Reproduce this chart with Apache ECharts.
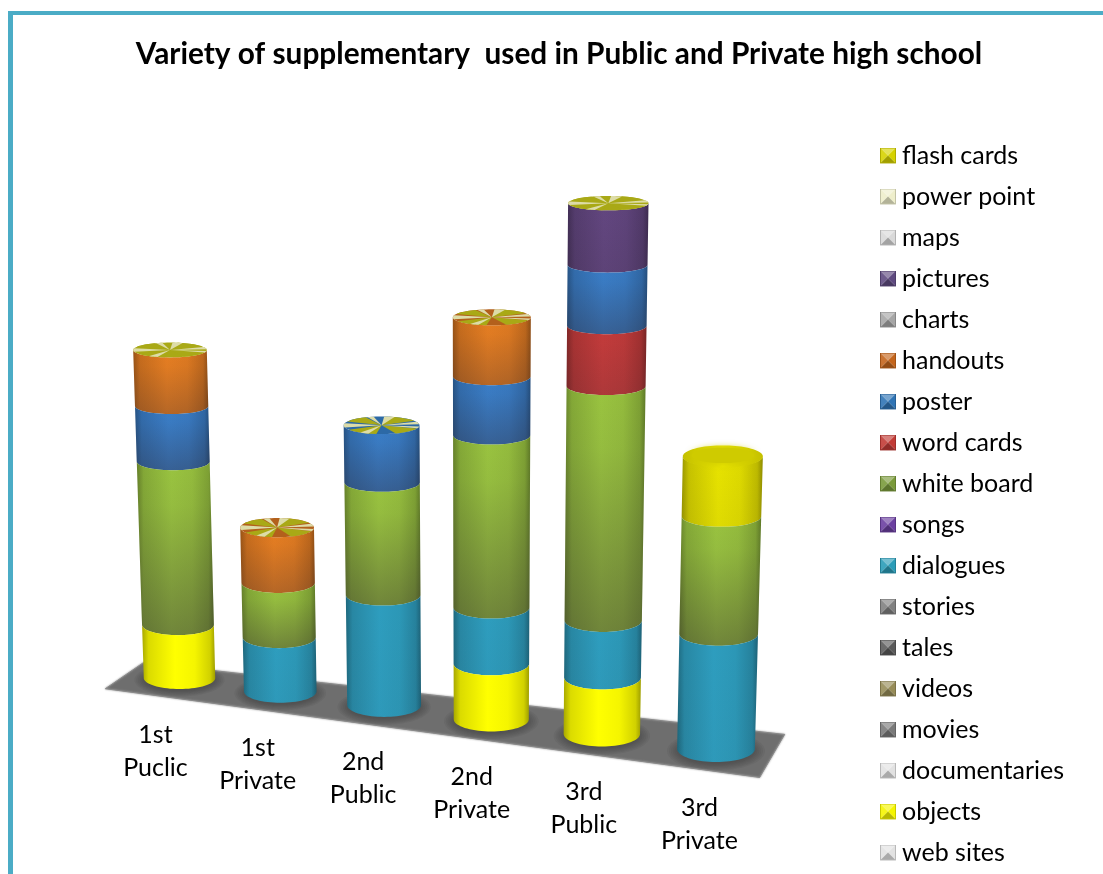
<!DOCTYPE html>
<html>
<head>
<meta charset="utf-8">
<style>html,body{margin:0;padding:0;background:#fff}#c{width:1103px;height:874px}</style>
<script src="https://cdn.jsdelivr.net/npm/echarts@6/dist/echarts.min.js"></script>
</head>
<body>
<div id="c"></div>
<script>
var categories = ['1st\nPuclic','1st\nPrivate','2nd\nPublic','2nd\nPrivate','3rd\nPublic','3rd\nPrivate'];
var legendNames = ['flash cards','power point','maps','pictures','charts','handouts','poster','word cards','white board','songs','dialogues','stories','tales','videos','movies','documentaries','objects','web sites'];
var flashCards    = [0,0,0,0,0,1];
var powerPoint    = [0,0,0,0,0,0];
var maps          = [0,0,0,0,0,0];
var pictures      = [0,0,0,0,1,0];
var charts        = [0,0,0,0,0,0];
var handouts      = [1,1,0,1,0,0];
var poster        = [1,0,1,1,1,0];
var wordCards     = [0,0,0,0,1,0];
var whiteBoard    = [3,1,2,3,4,2];
var songs         = [0,0,0,0,0,0];
var dialogues     = [0,1,2,1,1,2];
var stories       = [0,0,0,0,0,0];
var tales         = [0,0,0,0,0,0];
var videos        = [0,0,0,0,0,0];
var movies        = [0,0,0,0,0,0];
var documentaries = [0,0,0,0,0,0];
var objects       = [1,0,0,1,1,0];
var webSites      = [0,0,0,0,0,0];
var seriesValues = [flashCards,powerPoint,maps,pictures,charts,handouts,poster,wordCards,whiteBoard,songs,dialogues,stories,tales,videos,movies,documentaries,objects,webSites];

var legendColors = ['#D6D200','#EEEECB','#D9D9D9','#5F4A80','#A6A6A6','#C4651C','#2F74B5','#C23B36','#7A9A3A','#6B3FA0','#2A9CB8','#808080','#5A5A5A','#978C58','#7A7A7A','#E2E2E2','#F5F500','#E2E2E2'];
var bodyColors   = ['#E6E200','#EEEECB','#D9D9D9','#62467F','#A6A6A6','#E67E22','#3A7EC8','#C23B3B','#9AC440','#6B3FA0','#2E9DBE','#808080','#5A5A5A','#978C58','#7A7A7A','#E2E2E2','#FFFF00','#E2E2E2'];
var bodyShade    = [0.04,0,0,0.10,0,0.27,0.34,0.14,0.40,0,0.03,0,0,0,0,0,0,0];
var capUnder     = ['#A9A916','#B3601C','#2C69A6','#B3601C','#A9A916',null];
var capOlive     = [[22,68],[98,150],[205,245],[282,330]];
var capPale      = [[-86,-70],[-24,-6],[8,20],[110,124],[166,194],[248,258]];

function hex(c){return [parseInt(c.substr(1,2),16),parseInt(c.substr(3,2),16),parseInt(c.substr(5,2),16)];}
function mix(c,m,k){var a=hex(c),b=hex(m);return 'rgb('+a.map(function(v,i){return Math.round(v+(b[i]-v)*k);}).join(',')+')';}
function icon(c){
  var svg='<svg xmlns="http://www.w3.org/2000/svg" width="16" height="16">'+
   '<polygon points="0,0 16,0 8,8" fill="'+mix(c,'#ffffff',0.35)+'"/>'+
   '<polygon points="0,0 8,8 0,16" fill="'+mix(c,'#ffffff',0.10)+'"/>'+
   '<polygon points="16,0 16,16 8,8" fill="'+c+'"/>'+
   '<polygon points="0,16 16,16 8,8" fill="'+mix(c,'#000000',0.25)+'"/>'+
   '<rect x="0.5" y="0.5" width="15" height="15" fill="none" stroke="'+mix(c,'#000000',0.18)+'"/></svg>';
  return 'image://data:image/svg+xml;utf8,'+encodeURIComponent(svg);
}

// cumulative stacks, bottom of the stack is the end of the legend list
var rows = legendNames.map(function(){return [];});
var totals = categories.map(function(){return 0;});
for (var s=legendNames.length-1;s>=0;s--){
  categories.forEach(function(_,i){
    var v=seriesValues[s][i];
    rows[s].push([i,totals[i],totals[i]+v]);
    totals[i]+=v;
  });
}

// perspective plane: the grid's rectangle is projected on this quad
var QUAD=[[179.5,678],[716,749],[728.6,210],[165,178]];
var MAXV=9;
function makeWarp(api){
  var p0=api.coord([0,0]),p1=api.coord([5,0]),p3=api.coord([0,MAXV]);
  var q=QUAD,dx1=q[1][0]-q[2][0],dx2=q[3][0]-q[2][0],sx=q[0][0]-q[1][0]+q[2][0]-q[3][0],
      dy1=q[1][1]-q[2][1],dy2=q[3][1]-q[2][1],sy=q[0][1]-q[1][1]+q[2][1]-q[3][1],
      den=dx1*dy2-dx2*dy1,g=(sx*dy2-dx2*sy)/den,h=(dx1*sy-sx*dy1)/den,
      a=q[1][0]-q[0][0]+g*q[1][0],b=q[3][0]-q[0][0]+h*q[3][0],c=q[0][0],
      d=q[1][1]-q[0][1]+g*q[1][1],e=q[3][1]-q[0][1]+h*q[3][1],f=q[0][1];
  var band=(p1[0]-p0[0])/5;
  function warp(px,py){
    var u=(px-p0[0])/(p1[0]-p0[0]),w=(p0[1]-py)/(p0[1]-p3[1]),n=g*u+h*w+1;
    return [(a*u+b*w+c)/n,(d*u+e*w+f)/n];
  }
  return {
    at:function(t,v){var p=api.coord([t,v]);return warp(p[0],p[1]);},
    rx:function(t,v){var p=api.coord([t,v]);return (0.36-0.005*t)*(warp(p[0]+band/2,p[1])[0]-warp(p[0]-band/2,p[1])[0]);},
    frac:function(t,v){var p=api.coord([0,v]);return warp(p[0]+band*t,p[1]);}
  };
}
function ryOf(t,v){return 11+0.4*t-0.6*v;}
function arc(c,rx,ry,front,n){
  var out=[];
  for(var k=0;k<=n;k++){
    var an=Math.PI*k/n;
    out.push([c[0]-rx*Math.cos(an),c[1]+(front?ry:-ry)*Math.sin(an)]);
  }
  return out;
}
function ellipsePts(c,rx,ry){return arc(c,rx,ry,true,40).concat(arc(c,rx,ry,false,40).reverse());}
function wedge(c,rx,ry,a0,a1){
  var pts=[c];
  for(var k=0;k<=6;k++){
    var an=(a0+(a1-a0)*k/6)*Math.PI/180;
    pts.push([c[0]+rx*Math.cos(an),c[1]+ry*Math.sin(an)]);
  }
  return pts;
}

function segmentRenderer(si){
  return function(params,api){
    var t=api.value(0),v0=api.value(1),v1=api.value(2);
    if(v1<=v0) return null;
    var W=makeWarp(api);
    var c0=W.at(t,v0),c1=W.at(t,v1);
    var lo=arc(c0,W.rx(t,v0),ryOf(t,v0),true,36);
    var hi=arc(c1,W.rx(t,v1),ryOf(t,v1),true,36);
    var pts=hi.concat(lo.slice().reverse());
    var base=bodyColors[si];
    var side=new echarts.graphic.LinearGradient(0,0,1,0,[
      {offset:0,color:mix(base,'#000000',0.34)},
      {offset:0.09,color:mix(base,'#000000',0.14)},
      {offset:0.45,color:base},
      {offset:0.72,color:mix(base,'#000000',0.04)},
      {offset:0.93,color:mix(base,'#000000',0.18)},
      {offset:1,color:mix(base,'#000000',0.38)}
    ]);
    var kids=[{type:'polygon',shape:{points:pts},style:{fill:side}}];
    if(bodyShade[si]>0){
      kids.push({type:'polygon',shape:{points:pts},style:{fill:new echarts.graphic.LinearGradient(0,0,0,1,[
        {offset:0,color:'rgba(50,40,50,0)'},
        {offset:0.25,color:'rgba(50,40,50,'+(bodyShade[si]*0.12)+')'},
        {offset:1,color:'rgba(50,40,50,'+bodyShade[si]+')'}
      ])}});
    }
    return {type:'group',children:kids};
  };
}

function floorRenderer(params,api){
  var W=makeWarp(api);
  var L=W.frac(-0.56,0),R=W.frac(5.48,0);
  var f0=[L[0]-19,L[1]+18],f1=[R[0]-12.5,R[1]+21],b0=[L[0]+19,L[1]-8],b1=[R[0]+12.5,R[1]-22];
  if(params.dataIndex!==0){
    var t=api.value(0),c=W.at(t,0),kids=[];
    var slope=(f1[1]-f0[1])/(f1[0]-f0[0]);
    for(var k=0;k<7;k++){
      var rx=W.rx(t,0)*(1.26-k*0.05),ry=ryOf(t,0)*(1.5-k*0.09);
      // the smudge stays on the floor: it is cut along the front edge
      var pts=ellipsePts([c[0],c[1]+2],rx,ry).map(function(p){
        var limit=f0[1]+(p[0]-f0[0])*slope-1;
        return [p[0],Math.min(p[1],limit)];
      });
      kids.push({type:'polygon',shape:{points:pts},style:{fill:'rgba(50,50,50,0.09)'}});
    }
    return {type:'group',children:kids};
  }
  return {type:'polygon',shape:{points:[f0,b0,b1,f1]},style:{fill:'#6E6E6E',stroke:'#8A8A8A',lineWidth:1,shadowBlur:2,shadowColor:'#999'}};
}

function capRenderer(params,api){
  var t=api.value(0),v=api.value(1),W=makeWarp(api);
  var c=W.at(t,v),rx=W.rx(t,v),ry=ryOf(t,v);
  var kids=[];
  if(capUnder[t]===null){
    ry+=1;
    kids.push({type:'polygon',shape:{points:ellipsePts(c,rx,ry)},style:{fill:new echarts.graphic.LinearGradient(0,0,1,0,[
      {offset:0,color:'#C4C000'},{offset:0.5,color:'#E8E400'},{offset:1,color:'#C4C000'}])}});
    kids.push({type:'polygon',shape:{points:ellipsePts([c[0],c[1]-1],rx*0.78,ry*0.7)},style:{fill:'#CFCB00',shadowBlur:7,shadowColor:'#CFCB00'}});
    return {type:'group',children:kids};
  }
  kids.push({type:'polygon',shape:{points:ellipsePts(c,rx,ry)},style:{fill:capUnder[t]}});
  capOlive.forEach(function(w){kids.push({type:'polygon',shape:{points:wedge(c,rx,ry,w[0],w[1])},style:{fill:'#A9A916'}});});
  capPale.forEach(function(w){kids.push({type:'polygon',shape:{points:wedge(c,rx,ry,w[0],w[1])},style:{fill:'#DDDCA8'}});});
  return {type:'group',children:kids};
}

function labelRenderer(params,api){
  var t=api.value(0),W=makeWarp(api),c=W.at(t,0);
  return {type:'text',style:{x:c[0]-24+1.5*t,y:c[1]+73+0.4*t,text:categories[t],fill:'#000',
    font:'25px Lato',align:'center',verticalAlign:'middle',lineHeight:33}};
}

var series=[];
var idx=categories.map(function(_,i){return [i,0];});
// first row is the floor itself, the base smudges of all six follow it
var floorRows=[[0,0]].concat(idx);
series.push({name:'floor',type:'custom',coordinateSystem:'cartesian2d',z:1,silent:true,clip:false,renderItem:floorRenderer,data:floorRows,encode:{x:0,y:1}});
legendNames.forEach(function(n,si){
  series.push({name:n,type:'custom',coordinateSystem:'cartesian2d',z:3,renderItem:segmentRenderer(si),
    itemStyle:{color:legendColors[si]},data:rows[si],encode:{x:0,y:[1,2]}});
});
series.push({name:'caps',type:'custom',coordinateSystem:'cartesian2d',z:4,silent:true,renderItem:capRenderer,
  data:totals.map(function(v,i){return [i,v];}),encode:{x:0,y:1}});
series.push({name:'labels',type:'custom',coordinateSystem:'cartesian2d',z:5,silent:true,renderItem:labelRenderer,data:idx,encode:{x:0,y:1}});

var chart=echarts.init(document.getElementById('c'),null,{renderer:'canvas'});
chart.setOption({
  animation:false,
  backgroundColor:'#fff',
  title:{text:'Variety of supplementary  used in Public and Private high school',left:554,textAlign:'center',top:34,
    textStyle:{fontFamily:'Lato',fontWeight:'bold',fontSize:29.8,color:'#000'}},
  legend:{orient:'vertical',left:880,top:143,height:730,padding:0,itemWidth:16,itemHeight:16,itemGap:16,icon:'rect',
    textStyle:{fontFamily:'Lato',fontSize:25,color:'#000',lineHeight:25,padding:[0,0,0,1]},
    data:legendNames.map(function(n,i){return {name:n,icon:icon(legendColors[i])};})},
  grid:{left:120,right:320,top:190,bottom:130},
  xAxis:{type:'category',data:categories,show:false},
  yAxis:{type:'value',min:0,max:MAXV,interval:1,show:false},
  graphic:[
    {type:'rect',silent:true,shape:{x:8,y:11,width:5,height:863},style:{fill:'#4BACC6'}},
    {type:'rect',silent:true,shape:{x:8,y:11,width:1095,height:4},style:{fill:'#4BACC6'}}
  ],
  series:series
});
</script>
</body>
</html>
